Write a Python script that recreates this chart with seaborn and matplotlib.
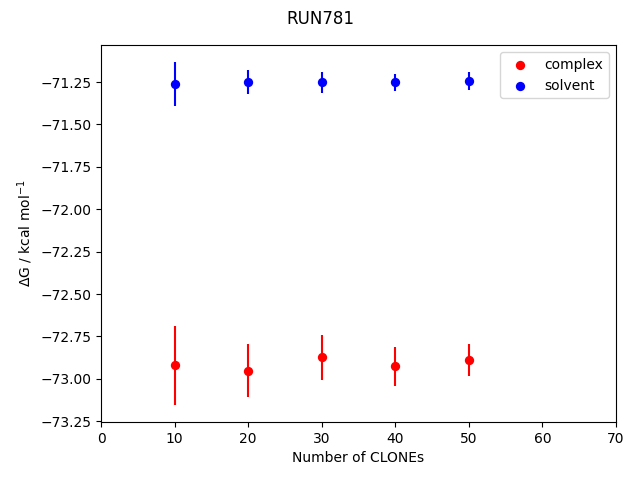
import matplotlib
matplotlib.use('Agg')
import matplotlib.pyplot as plt
import seaborn as sns

clones = [10, 20, 30, 40, 50]
complex_dg = [-72.920, -72.951, -72.874, -72.927, -72.890]
complex_err = [0.233, 0.158, 0.135, 0.114, 0.094]
solvent_dg = [-71.262, -71.250, -71.252, -71.252, -71.244]
solvent_err = [0.129, 0.073, 0.064, 0.050, 0.055]

fig, ax = plt.subplots(figsize=(6.4, 4.8), dpi=100)

sns.scatterplot(x=clones, y=complex_dg, color='red', label='complex',
                s=45, linewidth=0, ax=ax, zorder=3)
sns.scatterplot(x=clones, y=solvent_dg, color='blue', label='solvent',
                s=45, linewidth=0, ax=ax, zorder=3)
ax.errorbar(clones, complex_dg, yerr=complex_err, fmt='none', ecolor='red')
ax.errorbar(clones, solvent_dg, yerr=solvent_err, fmt='none', ecolor='blue')

ax.set_xlim(0, 70)
ax.set_xlabel('Number of CLONEs')
ax.set_ylabel(r'$\Delta$G / kcal mol$^{-1}$')
ax.legend(loc='upper right')
fig.suptitle('RUN781', y=0.98)
fig.subplots_adjust(left=0.158, right=0.9625, top=0.906, bottom=0.121)
fig.savefig('out.png')
